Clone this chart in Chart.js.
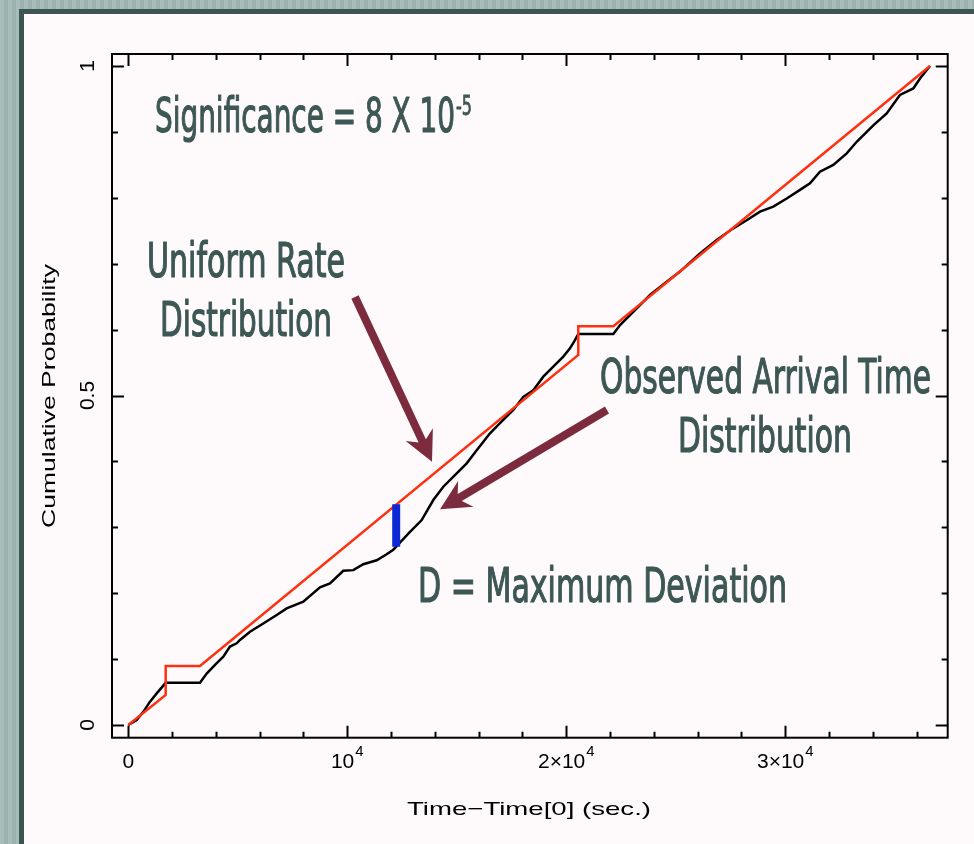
<!DOCTYPE html>
<html>
<head>
<meta charset="utf-8">
<script src="https://cdn.jsdelivr.net/npm/chart.js@4.4.1/dist/chart.umd.min.js"></script>
<style>
  html, body { margin: 0; padding: 0; }
  body {
    width: 974px; height: 844px; overflow: hidden; position: relative;
    background: repeating-linear-gradient(90deg, #a7bdb9 0 4px, #9bb2ae 4px 8px);
  }
  #border { position: absolute; left: 19px; top: 9px; width: 955px; height: 835px; background: #3b5553; }
  #panel { position: absolute; left: 24px; top: 14px; width: 950px; height: 830px; background: #fefafb; }
  #chart { position: absolute; left: 0; top: 0; }
</style>
</head>
<body>
<div id="border"></div>
<div id="panel"></div>
<canvas id="chart" width="974" height="844"></canvas>
<script>
// uniform rate model (red), with the two observing gaps
const uniformTime = [0, 1707, 1707, 3274, 20548, 20548, 22150, 36607];
const uniformProb = [0, 0.0455, 0.0895, 0.0895, 0.5616, 0.605, 0.605, 1.0];

// observed arrival times (black)
const observedTime = [0, 384, 685, 991, 1297, 1707, 3274, 3580, 4037, 4338, 4644, 4950, 5100, 5557,
    6164, 6776, 7233, 7991, 8753, 9210, 9817, 10274, 10731, 11342, 11799, 12100, 12233, 12863,
    13397, 13927, 14384, 14995, 15452, 15909, 16516, 16973, 17580, 18037, 18493, 18950, 19406,
    19863, 20169, 20397, 20548, 22150, 22452, 23059, 23822, 24584, 25192, 26105, 26868, 27626,
    28237, 28845, 29452, 30065, 30671, 31128, 31584, 32192, 32804, 33260, 34018, 34630, 35235,
    35845, 36150, 36607];
const observedProb = [0, 0.0076, 0.020, 0.0354, 0.048, 0.064, 0.064, 0.078, 0.094, 0.1037, 0.119,
    0.124, 0.129, 0.1416, 0.154, 0.167, 0.177, 0.187, 0.209, 0.215, 0.234, 0.235, 0.244, 0.250,
    0.259, 0.266, 0.2706, 0.293, 0.311, 0.3414, 0.3616, 0.382, 0.397, 0.417, 0.4426, 0.458, 0.478,
    0.498, 0.508, 0.5286, 0.5437, 0.559, 0.5716, 0.584, 0.5933, 0.5933, 0.607, 0.627, 0.6525,
    0.6727, 0.688, 0.7157, 0.736, 0.7537, 0.766, 0.779, 0.7866, 0.799, 0.812, 0.822, 0.8396,
    0.8498, 0.8675, 0.885, 0.910, 0.928, 0.956, 0.966, 0.981, 1.0];

// maximum deviation D
const devTime = [12233, 12233];
const devProb = [0.2706, 0.335];

// axis ticks
const xTickValues = [0, 10000, 20000, 30000];
const xTickBase = ["0", "10", "2\u00d710", "3\u00d710"];
const xTickSup = ["", "4", "4", "4"];
const yTickValues = [0, 0.5, 1];
const yTickLabels = ["0", "0.5", "1"];

// arrows, tail -> tip, in data units
const arrowTail = [[10352, 0.6495], [21858, 0.478]];
const arrowTip = [[13868, 0.3995], [14233, 0.3273]];

const pts = (xs, ys) => xs.map((x, i) => ({ x: x, y: ys[i] }));

const TEXT = "#3d5755";
const ARROW = "#7c2b3e";

function fitText(ctx, str, x, y, width, font, thicken) {
    ctx.font = font;
    const w = ctx.measureText(str).width;
    ctx.save();
    ctx.translate(x, y);
    ctx.scale(width / w, 1);
    ctx.textAlign = "left";
    ctx.textBaseline = "alphabetic";
    ctx.fillText(str, 0, 0);
    if (thicken) {
        ctx.lineWidth = thicken;
        ctx.lineJoin = "round";
        ctx.strokeStyle = ctx.fillStyle;
        ctx.strokeText(str, 0, 0);
    }
    ctx.restore();
}

function drawArrow(ctx, x0, y0, x1, y1) {
    const dx = x1 - x0, dy = y1 - y0;
    const len = Math.hypot(dx, dy);
    const ux = dx / len, uy = dy / len, nx = -uy, ny = ux;
    const headLen = 30, headW = 15, notch = 7, shaft = 4;
    const bx = x1 - ux * headLen, by = y1 - uy * headLen;
    const sx = x1 - ux * (headLen - notch), sy = y1 - uy * (headLen - notch);
    ctx.beginPath();
    ctx.moveTo(x0 + nx * shaft, y0 + ny * shaft);
    ctx.lineTo(sx + nx * shaft, sy + ny * shaft);
    ctx.lineTo(bx + nx * headW, by + ny * headW);
    ctx.lineTo(x1, y1);
    ctx.lineTo(bx - nx * headW, by - ny * headW);
    ctx.lineTo(sx - nx * shaft, sy - ny * shaft);
    ctx.lineTo(x0 - nx * shaft, y0 - ny * shaft);
    ctx.closePath();
    ctx.fill();
}

const frame = {
    id: "frame",
    afterDraw(chart) {
        const ctx = chart.ctx;
        const xs = chart.scales.x, ys = chart.scales.y;
        const { left, right, top, bottom } = chart.chartArea;

        ctx.save();
        ctx.strokeStyle = "#000";
        ctx.lineWidth = 2;
        ctx.strokeRect(left, top, right - left, bottom - top);

        ctx.beginPath();
        for (let v = 0; v <= 36000; v += 2000) {
            const px = Math.round(xs.getPixelForValue(v)) + 0.5;
            const len = v % 10000 === 0 ? 12 : 6;
            ctx.moveTo(px, bottom); ctx.lineTo(px, bottom - len);
            ctx.moveTo(px, top); ctx.lineTo(px, top + len);
        }
        for (let i = 0; i <= 10; i++) {
            const py = Math.round(ys.getPixelForValue(i / 10)) + 0.5;
            const len = i % 5 === 0 ? 12 : 6;
            ctx.moveTo(left, py); ctx.lineTo(left + len, py);
            ctx.moveTo(right, py); ctx.lineTo(right - len, py);
        }
        ctx.stroke();

        // tick labels
        ctx.fillStyle = "#000";
        const base = '21px "Liberation Sans", Arial, sans-serif';
        const sup = '15px "Liberation Sans", Arial, sans-serif';
        xTickValues.forEach((v, i) => {
            const px = xs.getPixelForValue(v);
            ctx.font = base;
            const wb = ctx.measureText(xTickBase[i]).width;
            ctx.font = sup;
            const ws = xTickSup[i] ? ctx.measureText(xTickSup[i]).width + 1 : 0;
            const x0 = px - (wb + ws) / 2;
            ctx.textAlign = "left";
            ctx.textBaseline = "alphabetic";
            ctx.font = base;
            ctx.fillText(xTickBase[i], x0, 768);
            if (xTickSup[i]) {
                ctx.font = sup;
                ctx.fillText(xTickSup[i], x0 + wb + 1, 756);
            }
        });
        yTickValues.forEach((v, i) => {
            const py = ys.getPixelForValue(v);
            ctx.save();
            ctx.translate(94, py);
            ctx.rotate(-Math.PI / 2);
            ctx.font = base;
            ctx.textAlign = "center";
            ctx.textBaseline = "alphabetic";
            ctx.fillText(yTickLabels[i], 0, 0);
            ctx.restore();
        });

        // axis titles
        const axFont = '19px "Liberation Sans", Arial, sans-serif';
        fitText(ctx, "Time\u2212Time[0] (sec.)", 407, 815, 244, axFont);
        ctx.save();
        ctx.translate(55, 528);
        ctx.rotate(-Math.PI / 2);
        fitText(ctx, "Cumulative Probability", 0, 0, 264, axFont);
        ctx.restore();

        // annotations
        ctx.fillStyle = TEXT;
        const big = '48px "DejaVu Sans Condensed", "DejaVu Sans", sans-serif';
        fitText(ctx, "Significance = 8 X 10", 155, 132, 300, big, 1.2);
        fitText(ctx, "-5", 456, 115, 16, '26px "DejaVu Sans Condensed", "DejaVu Sans", sans-serif', 0.8);
        fitText(ctx, "Uniform Rate", 147, 277, 198, big, 1.2);
        fitText(ctx, "Distribution", 160, 336, 172, big, 1.2);
        fitText(ctx, "Observed Arrival Time", 600, 393, 331, big, 1.2);
        fitText(ctx, "Distribution", 678, 452, 174, big, 1.2);
        fitText(ctx, "D = Maximum Deviation", 418, 602, 369, big, 1.2);

        ctx.fillStyle = ARROW;
        arrowTail.forEach((t, i) => {
            drawArrow(ctx,
                xs.getPixelForValue(t[0]), ys.getPixelForValue(t[1]),
                xs.getPixelForValue(arrowTip[i][0]), ys.getPixelForValue(arrowTip[i][1]));
        });
        ctx.restore();
    }
};

new Chart(document.getElementById("chart"), {
    type: "scatter",
    data: {
        datasets: [
            {
                data: pts(devTime, devProb),
                showLine: true,
                borderColor: "#0b28d4",
                borderWidth: 8,
                borderCapStyle: "butt",
                pointRadius: 0
            },
            {
                data: pts(uniformTime, uniformProb),
                showLine: true,
                borderColor: "#ff3010",
                borderWidth: 2.5,
                pointRadius: 0
            },
            {
                data: pts(observedTime, observedProb),
                showLine: true,
                borderColor: "#000000",
                borderWidth: 2.5,
                pointRadius: 0
            }
        ]
    },
    options: {
        responsive: false,
        animation: false,
        devicePixelRatio: 1,
        layout: { padding: { left: 112, top: 54, right: 26.3, bottom: 106.3 } },
        scales: {
            x: { type: "linear", min: -744, max: 37416, display: false },
            y: { type: "linear", min: -0.01927, max: 1.01821, display: false }
        },
        plugins: {
            legend: { display: false },
            tooltip: { enabled: false }
        }
    },
    plugins: [frame]
});
</script>
</body>
</html>
